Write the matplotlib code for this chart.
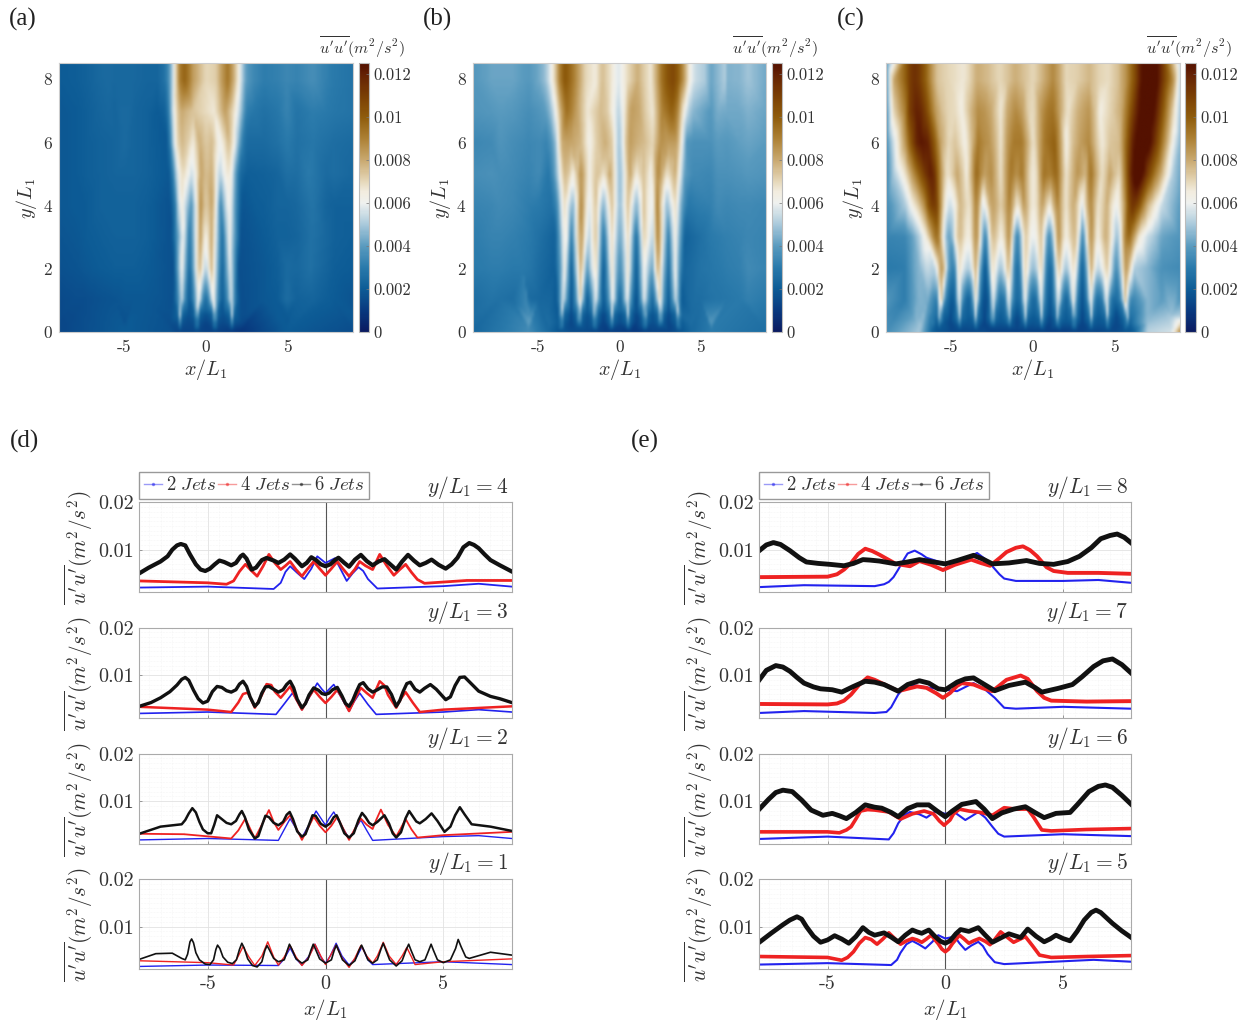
import numpy as np
import matplotlib
matplotlib.use('Agg')
import matplotlib.pyplot as plt
import matplotlib.tri as mtri
from matplotlib.cm import ScalarMappable
from matplotlib.colors import LinearSegmentedColormap, Normalize
from matplotlib.lines import Line2D
from matplotlib.ticker import MultipleLocator

plt.rcParams['mathtext.fontset'] = 'cm'
plt.rcParams['font.family'] = 'cmr10'
plt.rcParams['axes.unicode_minus'] = False

# values, in units of 1e-3 m2/s2
x2_1 = [-7.9,-5,-2,-1.75,-1.5,-1.25,-1,-.7,-.45,-.2,0,.2,.45,.7,1,1.3,1.55,1.8,2,5,7.9]
v2_1 = [1.6,1.9,1.8,3.2,5.5,3.2,1.9,3.8,6.3,3.6,2.3,3.8,6.5,3.8,1.9,3.4,5.8,3,2,2.6,2]
x2_2 = [-7.9,-5,-2,-1.75,-1.5,-1.25,-1,-.7,-.4,-.2,0,.15,.35,.65,1,1.25,1.5,1.75,2,5,6.5,7.9]
v2_2 = [1.8,2.1,1.7,4,6.3,4.2,2.3,5,7.9,6.4,4.9,6.3,7.7,5,2.1,4,6,3.8,1.7,2.5,2.7,2.1]
x2_3 = [-7.9,-5,-2.1,-1.8,-1.4,-1.2,-1,-.7,-.35,-.15,0,.15,.35,.7,1,1.2,1.45,1.8,2.15,5,6.5,7.9]
v2_3 = [1.9,2.2,1.7,3.6,6.2,4.5,2.7,5.2,8.3,7,6.2,7,8,5,2.4,4.3,6.2,3.8,1.7,2.2,2.7,2.2]
x2_4 = [-7.9,-5,-2.2,-1.9,-1.7,-1.5,-1.2,-.9,-.6,-.35,0,.4,.65,.9,1.15,1.4,1.6,1.8,2.2,5,6.5,7.9]
v2_4 = [2,2.2,1.7,3,5.3,6.5,5.1,3.8,6,8.6,7.2,8.2,5.8,3.4,5,6.3,5.5,3.8,1.8,2.3,2.8,2.2]
x2_5 = [-7.9,-5,-2.3,-2.05,-1.9,-1.65,-1.4,-1.1,-.85,-.55,-.3,0,.4,.6,.85,1.1,1.4,1.6,1.8,2.1,2.5,6.3,7.9]
v2_5 = [2,2.3,1.9,3,4.5,6.3,7,6.2,5.4,6.8,8.2,7.5,7.9,6.5,5.1,6,6.8,5.9,4.2,2.5,2.1,3,2.6]
x2_6 = [-7.9,-5,-2.4,-2.2,-2,-1.75,-1.5,-1.1,-.8,-.4,0,.4,.85,1.15,1.4,1.7,2,2.25,2.5,5,7.9]
v2_6 = [2,2.5,1.9,3.2,5.3,7,7.7,7.2,6.5,7.9,7.3,7.6,6,6.9,7.7,6.5,4.6,3.1,2.5,3,2.6]
x2_7 = [-7.9,-6,-3,-2.5,-2.3,-2,-1.7,-1.5,-.8,0,.5,.9,1.2,1.7,2.1,2.5,3,5,7.9]
v2_7 = [2,2.4,2,2.2,3.2,5.9,7.6,8,7.4,6.9,6.6,7.6,8.3,6.9,5.2,3.1,2.9,3.3,2.9]
x2_8 = [-7.9,-6,-3,-2.6,-2.4,-2.2,-2,-1.75,-1.6,-1.3,-1,-.8,0,.6,1,1.35,1.7,2,2.3,2.5,3,5,6.5,7.9]
v2_8 = [2.1,2.5,2.3,2.7,3.2,4.2,5.8,8,9.2,9.8,9,8.3,7,7.2,8.4,9.3,8,6.5,4.8,3.9,3.4,3.4,3.6,3]

x4_1 = [-7.9,-5,-3.9,-3.7,-3.5,-3.25,-3,-2.7,-2.45,-2.2,-2,-1.75,-1.5,-1.25,-1,-.7,-.45,-.2,0,.2,.45,.7,1,1.25,1.5,1.75,2,2.2,2.45,2.7,3,3.25,3.45,3.65,3.8,5,7.9]
v4_1 = [2.8,2.4,1.9,3.8,5.8,3.6,1.8,3.8,6.8,3.6,1.9,3.6,6,3.6,1.8,3.6,6.3,3.8,2,3.8,6.1,3.4,1.4,3.4,6,3.8,2.3,3.8,6.7,3.8,2,3.8,5.6,3.6,2,2.6,3.2]
x4_2 = [-7.9,-6,-4,-3.7,-3.4,-3.2,-3,-2.7,-2.4,-2.2,-2,-1.75,-1.5,-1.25,-1,-.75,-.5,-.25,0,.25,.5,.75,1,1.25,1.5,1.75,2,2.15,2.35,2.65,3,3.2,3.4,3.65,3.9,5,7.9]
v4_2 = [3.1,3,2.1,3.8,6.3,4.2,2.1,5,8.1,5.6,3.9,5.6,7,4.4,1.8,4.2,6.7,4.8,3.4,4.8,6.7,4.2,1.8,4.2,6.3,5,4.1,6,8.2,5,2.5,4.3,6.2,4,2.3,2.8,3.5]
x4_3 = [-7.9,-5,-4,-3.7,-3.5,-3.3,-3.15,-3,-2.7,-2.5,-2.3,-2.15,-1.9,-1.7,-1.5,-1.25,-1,-.75,-.5,-.25,0,.25,.5,.75,1,1.25,1.5,1.75,2,2.15,2.3,2.5,2.65,3,3.2,3.4,3.7,4,5,7.9]
v4_3 = [3.3,2.7,2.2,4.2,6,6.3,4.8,3.1,5.8,8.1,7.9,6.5,5.2,6.4,7.6,5,2.7,5,6.9,5.4,4.1,5.4,6.9,4.8,2.4,5,7.3,6.2,5.2,7,8.7,7.8,5.8,3.1,5,6.4,4.2,2.2,2.7,3.4]
x4_4 = [-7.9,-5,-4.2,-3.9,-3.65,-3.4,-3.15,-2.9,-2.65,-2.4,-2.15,-1.9,-1.7,-1.5,-1.25,-1,-.75,-.5,-.25,0,.25,.5,.75,1,1.25,1.45,1.7,2,2.15,2.3,2.6,2.9,3.15,3.4,3.65,3.9,4.2,6,7.9]
v4_4 = [3.4,3,2.7,3.4,5.4,6.9,5.6,4.4,6.5,9,7.2,5.8,6.6,7.5,5.8,4.4,6,7.5,6,4.6,6,7.5,5.9,4.4,5.9,7.5,6.6,5.8,7.4,9,6.6,4.6,5.8,6.9,5.2,3.7,2.9,3.5,3.5]
x4_5 = [-7.9,-5,-4.4,-4.15,-3.9,-3.65,-3.4,-3.15,-2.9,-2.65,-2.4,-2.15,-1.9,-1.65,-1.4,-1.2,-1,-.8,-.6,-.3,-.15,0,.15,.3,.6,.8,1,1.2,1.45,1.7,1.9,2.1,2.35,2.6,2.9,3.15,3.4,3.7,4,4.5,6,7.9]
v4_5 = [3.7,3.5,2.9,3.5,4.7,6.5,7.7,7.3,6.3,7.4,8.7,7.5,6.3,7,7.5,7.2,6.7,7.4,8.2,6.4,5.3,4.7,5.3,6.4,8.2,7.4,6.5,7,7.5,6.9,6.2,7.3,8.9,7.9,6.7,7.3,7.9,6,4,3.5,3.7,3.9]
x4_6 = [-7.9,-5,-4.5,-4.2,-4,-3.8,-3.6,-3.3,-3,-2.4,-1.9,-1.4,-.9,-.5,-.25,-.05,.2,.35,.6,1,1.5,2,2.5,3,3.5,3.75,4.1,4.5,6,7.9]
v4_6 = [3.5,3.5,3.3,3.9,4.6,6.2,7.9,8.2,8.1,7.7,6.2,7.3,7.9,7.3,5.8,4.9,6,7.3,8.3,7.9,7.6,7,8.6,8.3,8.3,6.6,3.9,3.7,4,4.2]
x4_7 = [-7.9,-5,-4.6,-4.3,-4,-3.65,-3.3,-3,-2.7,-2,-1.6,-1.2,-.8,-.4,-.1,.2,.5,.7,1.2,1.6,2,2.6,3.2,3.5,3.9,4.2,4.5,6,7.9]
v4_7 = [3.9,3.8,4,4.6,5.9,8,9.5,9,8.3,6.6,7.1,7.6,7.3,6.2,5.2,6.2,7.7,8.3,8,7.2,6.6,9,9.9,9.2,6.6,5.2,4.6,4.4,4.5]
x4_8 = [-7.9,-5,-4.6,-4.3,-4,-3.7,-3.4,-3.1,-2.8,-2.1,-1.5,-1.1,-.6,-.1,.4,1.1,1.5,1.9,2.3,2.6,3,3.3,3.6,3.9,4.3,4.6,5.2,6.5,7.9]
v4_8 = [4.2,4.3,4.8,5.8,7.2,9.1,10.2,9.7,8.95,7,6.5,7.6,6.8,5.7,6.8,7.9,7.2,6.6,8.2,9.5,10.4,10.7,9.9,8.6,6.3,5.5,5.1,5.1,4.9]

x6_1 = [-7.9,-7.2,-6.5,-6.1,-5.95,-5.85,-5.75,-5.68,-5.6,-5.5,-5.35,-5.1,-4.9,-4.75,-4.65,-4.58,-4.48,-4.35,-4.15,-3.95,-3.78,-3.65,-3.55,-3.45,-3.3,-3.1,-2.9,-2.7,-2.57,-2.48,-2.38,-2.2,-2,-1.75,-1.62,-1.53,-1.42,-1.25,-1,-.75,-.62,-.52,-.42,-.25,0,.25,.37,.46,.55,.72,1,1.25,1.42,1.53,1.63,1.8,2,2.2,2.35,2.45,2.55,2.72,3,3.25,3.43,3.53,3.63,3.8,4,4.22,4.38,4.48,4.58,4.75,5,5.3,5.52,5.63,5.75,5.95,6.1,7,7.9]
v6_1 = [3.1,4.3,4.4,3.3,3,4.2,6.8,7.4,6.6,4.5,3,2.1,2,3,5.2,6.1,5.4,3.6,2.5,2.2,3,5.2,6.5,5.5,3.2,1.8,1.5,2.6,5,6,5.1,3.3,2.6,3,5,6.3,5.2,3.2,2.3,3,5,6.3,5.2,3.2,2.3,3,5,6.1,5,3,1.8,2.8,5,6.1,5,3,2.3,3,5.2,6.5,5.2,3,1.7,2.8,5.2,6.3,5,3,2.6,3,5,6.3,5,3,2.4,3,5.4,7.3,5.8,3.6,3.3,4.6,4]
x6_2 = [-7.9,-7,-6.1,-5.95,-5.8,-5.65,-5.5,-5.35,-5.2,-5,-4.85,-4.72,-4.6,-4.45,-4.2,-4,-3.8,-3.65,-3.55,-3.42,-3.25,-3,-2.85,-2.7,-2.55,-2.4,-2.2,-2,-1.8,-1.65,-1.52,-1.38,-1.2,-1,-.85,-.7,-.55,-.42,-.2,0,.2,.35,.47,.6,.8,1,1.2,1.4,1.55,1.7,1.85,2,2.2,2.5,2.7,2.85,3,3.2,3.4,3.55,3.7,3.85,4,4.25,4.5,4.75,5.05,5.3,5.5,5.7,5.9,6.2,7,7.9]
v6_2 = [3.1,4.6,5.1,6,7.4,8.5,7.6,5.6,4,3.2,3.2,5,7,6.4,5.4,5.1,5.8,7.2,7.9,6.6,4,2.1,2.6,4.8,6.9,6.6,5.4,4.9,5.6,7.1,7.7,6.2,3.6,2.5,3,5,7,6.9,5.2,4.6,5.3,6.6,7,5.6,3.2,2.3,3.2,6,7.5,6.6,5.4,4.9,5.6,7,5.2,3.2,2.3,3.4,6.4,7.9,6.8,5.7,5.3,6.2,7.4,5.8,3.5,4.6,7,8.7,7.2,5.1,4.6,3.7]
x6_3 = [-7.9,-7.4,-7,-6.6,-6.3,-6.1,-5.95,-5.8,-5.6,-5.4,-5.2,-5,-4.8,-4.6,-4.4,-4.2,-4,-3.8,-3.65,-3.5,-3.35,-3.2,-3,-2.85,-2.7,-2.55,-2.4,-2.2,-2,-1.8,-1.65,-1.5,-1.35,-1.2,-1,-.85,-.7,-.5,-.3,-.15,0,.15,.3,.5,.7,.85,1,1.15,1.3,1.45,1.6,1.8,2,2.2,2.4,2.6,2.8,3,3.15,3.3,3.45,3.6,3.8,4,4.2,4.45,4.7,5.1,5.3,5.5,5.7,5.9,6.1,6.5,7,7.4,7.9]
v6_3 = [3.4,4.2,5.2,6.5,7.9,9.1,9.5,8.9,6.8,5,4.1,4.5,6.5,7.6,7.4,6.7,6.4,6.9,8.1,8.7,7.6,5.4,3.4,4.2,6.2,7.5,7.6,7,6.4,6.9,8,8.7,7.3,4.9,3.1,4,5.8,7.3,6.8,6.1,5.9,6.2,6.9,7.4,5.6,4,3.4,4.6,6.4,8,8.4,7.1,6.4,6.9,7.5,7.5,5.9,3.4,4.6,6.6,8.2,8.5,7,6.4,7.2,8,7,4.8,5.4,7.8,9.5,9.6,8.6,6.6,5.5,5,4.2]
x6_4 = [-7.9,-7.5,-7,-6.7,-6.5,-6.3,-6.14,-5.95,-5.75,-5.5,-5.3,-5.1,-4.9,-4.7,-4.5,-4.3,-4,-3.8,-3.6,-3.5,-3.35,-3.13,-2.95,-2.7,-2.5,-2.2,-2,-1.75,-1.5,-1.3,-1,-.8,-.6,-.4,-.2,0,.2,.4,.55,.8,1,1.25,1.5,1.75,2,2.25,2.5,2.75,3,3.25,3.5,3.75,4,4.25,4.5,4.8,5.1,5.35,5.6,5.85,6.1,6.3,6.5,6.75,7,7.4,7.9]
v6_4 = [5,6.2,7.5,8.6,10,10.9,11.2,10.9,9,6.9,5.8,5.5,6,6.9,7.7,7.4,6.7,7.2,8.6,8.95,8.1,5.8,6.2,7.8,8.25,7.7,7.2,7.9,9,8.1,6.5,7.2,8.4,7.8,6.9,6.5,6.9,7.8,8.3,7.2,6.4,7.9,8.9,7.6,6.7,7.5,8,6.9,5.8,7.5,8.9,7.7,6.7,7.2,7.9,6.8,6,6.9,8.3,10.5,11.4,11,10.3,9,7.8,6.7,5.4]
x6_5 = [-7.9,-7.4,-6.9,-6.6,-6.3,-6.1,-5.9,-5.6,-5.3,-5,-4.7,-4.4,-4.1,-3.8,-3.5,-3.25,-3,-2.6,-2.3,-2,-1.7,-1.4,-1.2,-1,-.7,-.45,-.2,0,.2,.45,.65,1,1.2,1.4,1.7,2,2.35,2.7,3.2,3.5,3.85,4.2,4.45,4.7,5,5.3,5.6,5.9,6.2,6.4,6.6,7.1,7.5,7.9]
v6_5 = [6.7,8.6,10.4,11.4,12.1,11.6,10,8,6.7,7.2,8.1,7.4,6.5,7.9,9.8,8.8,8.2,8.7,7.8,6.8,8.2,9.3,8.9,8.6,9.3,8,6.9,6.5,7,8.5,9.4,9,9.4,9.8,8.2,6.7,7.6,8.5,7.7,9.5,8,6.8,7.4,8.2,7.5,7,9,11.4,13,13.5,13,10.7,9.1,7.7]
x6_6 = [-7.9,-7.5,-7.2,-6.9,-6.5,-6.1,-5.7,-5.2,-4.8,-4.5,-4.2,-3.8,-3.4,-3,-2.7,-2.3,-2,-1.6,-1.2,-.7,-.35,0,.3,.7,1,1.3,1.65,2,2.4,2.9,3.4,3.8,4.2,4.7,5.3,5.6,6.1,6.5,6.8,7.1,7.5,7.9]
v6_6 = [8.3,10.4,11.8,12.3,12,10.2,8.1,7,7.4,6.9,6.3,7.6,9.2,8.7,8.5,7.6,6.7,8.4,9.2,9.2,7.9,6.7,7.9,9.3,9.6,9.9,8.3,6.3,7.5,8.3,8.8,7.6,6.5,7.4,7.6,9.2,12,13.1,13.4,12.9,11.2,9.3]
x6_7 = [-7.9,-7.6,-7.2,-6.9,-6.6,-6.3,-6,-5.6,-5.3,-4.8,-4.4,-3.9,-3.4,-3,-2.6,-2.3,-2,-1.6,-1.1,-.7,-.3,0,.5,.85,1.2,1.6,2.1,2.7,3.4,3.8,4.1,4.8,5.4,5.8,6.3,6.7,7.1,7.5,7.9]
v6_7 = [9,11,12,11.7,10.8,9.5,8.3,7.5,7.1,6.9,6.4,7.6,8.7,8.5,8,7.3,6.6,8,8.8,8.3,7.1,6.9,8.5,9.2,9.4,8.2,6.7,7.8,8.5,7.4,6.4,7.2,8,9.6,11.8,13,13.4,12.2,10.4]
x6_8 = [-7.9,-7.6,-7.3,-7,-6.6,-6.2,-5.9,-5.4,-4.9,-4.3,-3.9,-3.5,-3.2,-2.8,-2.1,-1.6,-1.1,-.5,0,.5,1.2,1.6,2,2.7,3.45,4,4.6,5.2,5.7,6.2,6.6,7,7.3,7.6,7.9]
v6_8 = [9.8,11,11.5,11.1,9.8,8.3,7.4,7.1,6.9,6.6,7.1,7.9,7.8,7.6,7,7.4,7.9,7.4,7,7.7,8.8,8,7,7.2,7.7,7.1,6.9,7.5,8.6,10.4,12.3,13,13.3,12.6,11.4]

# rows of the maps that have no profile panel
xa_low = [-9,-5,-2.2,-1.75,-1.6,-1.45,-1.05,-.7,-.55,-.4,0,.4,.55,.7,1.05,1.45,1.6,1.75,2.2,5,9]
va_0 = [1.4,2,1.7,1.4,1.5,1.4,1.4,1.4,1.5,1.4,1.3,1.3,1.4,1.3,1.2,1.1,1.1,1,.9,2,1.6]
va_q = [1.4,1.7,1.6,1.7,3.4,1.7,1.5,1.7,3.4,1.7,1.3,1.7,3.4,1.7,1.5,1.7,3.4,1.7,1.5,1.9,1.8]
va_h = [1.5,1.8,1.7,2.2,5.2,2.2,1.7,2.2,5.2,2.2,1.6,2.2,5.2,2.2,1.7,2.2,5.2,2.2,1.6,2,1.9]
xb_low = [-9,-5.6,-4.4,-3.75,-3.6,-3.45,-3,-2.65,-2.5,-2.35,-2,-1.7,-1.55,-1.4,-1,-.65,-.5,-.35,0,.35,.5,.65,1,1.4,1.55,1.7,2,2.35,2.5,2.65,3,3.45,3.6,3.75,4.4,5.6,9]
vb_0 = [2.4,3.5,2.4,1.8,1.8,1.8,1.6,1.6,1.6,1.6,1.5,1.4,1.4,1.4,1.2,1.2,1.2,1.2,1.2,1.1,1.1,1.1,1,1.2,1.3,1.3,1.4,1.4,1.4,1.4,1.4,1.6,1.8,1.8,2.4,3,2.6]
vb_q = [2.5,4.2,2.6,2,3.6,2,1.4,2,3.6,2,1.6,2,3.6,2,1.2,2,3.6,2,1.5,2,3.6,2,1.2,2,3.6,2,1.6,2,3.6,2,1.4,2,3.6,2,2.6,4,2.7]
vb_h = [2.6,3.6,2.5,2.4,5.3,2.4,1.5,2.4,5.3,2.4,1.7,2.4,5.3,2.4,1.3,2.4,5.3,2.4,1.7,2.4,5.3,2.4,1.3,2.4,5.3,2.4,1.7,2.4,5.3,2.4,1.5,2.4,5.3,2.4,2.5,3.4,2.8]
xc_low = [-9,-7,-6.2,-5.9,-5.75,-5.6,-5.1,-4.7,-4.55,-4.4,-4,-3.7,-3.55,-3.4,-3,-2.65,-2.5,-2.35,-2,-1.65,-1.5,-1.35,-1,-.65,-.5,-.35,0,.35,.5,.65,1,1.35,1.5,1.65,2,2.35,2.5,2.65,3,3.4,3.55,3.7,4,4.4,4.55,4.7,5.1,5.6,5.75,5.9,6.2,7,8.5,9]
vc_0 = [3.6,5,2.2,1.8,1.8,1.8,1.5,1.5,1.5,1.5,1.5,1.5,1.5,1.5,1.5,1.3,1.3,1.3,1.3,1.3,1.3,1.3,1.3,1.3,1.3,1.3,1.3,1.3,1.3,1.3,1.2,1.2,1.2,1.2,1.2,1.3,1.3,1.3,1.3,1.4,1.4,1.4,1.4,1.5,1.5,1.5,1.5,1.8,1.8,1.8,2.2,5.2,5.6,8.5]
vc_q = [3.6,4.6,3,2,3.6,2,1.4,2,3.6,2,1.8,2,3.6,2,1.3,2,3.6,2,1.8,2,3.6,2,1.3,2,3.6,2,1.8,2,3.6,2,1.3,2,3.6,2,1.8,2,3.6,2,1.3,2,3.6,2,1.8,2,3.6,2,1.4,2.2,3.6,2.2,3,4.8,5.4,6.6]
vc_h = [3.5,4.5,3,2.6,5.5,2.6,1.5,2.6,5.5,2.6,2,2.6,5.5,2.6,1.4,2.6,5.5,2.6,2,2.6,5.5,2.6,1.5,2.6,5.5,2.6,2,2.6,5.5,2.6,1.5,2.6,5.5,2.6,2,2.6,5.5,2.6,1.4,2.6,5.5,2.6,2,2.6,5.5,2.6,1.5,2.8,5.6,2.8,3,4.6,4.8,5]

# points of the maps beyond the profile range, y then x
edge_y = [1,2,3,4,5,6,7,8]
ea_left = [1.5,1.7,1.8,1.9,1.9,1.9,1.9,2]
ea_right = [1.8,2,2.1,2.2,2.4,2.5,2.8,2.8]
eb_left = [2.6,3,3.1,3.3,3.6,3.4,3.8,3.9]
eb_right = [3,3.3,3.3,3.4,3.8,4,4.2,4.3]
ec_left = [3.8,3,3.3,3.6,3.6,3.8,4,4.2]
ec_right = [3.8,3.5,3.8,4,4.3,4.6,5,5.5]
ec_in_y = [5,6,7,8]
ec_in_left = [5,5.5,7,8]
ec_in_right = [5,6,7,8.5]

# map background outside the jets, one line per y in edge_y
xa_out = [-7.4,-6.6,-5.6,-4.4,-3.6,3.6,4.4,5.6,6.6,7.4]
va_out = [[1.6,1.7,1.8,1.9,1.9,1.9,2,2.2,2.3,2.1],
          [1.9,2,2.1,2.1,2,1.9,2.1,2.4,2.6,2.3],
          [2,2.1,2.2,2.2,2.1,2,2.2,2.3,2.7,2.4],
          [2,2.2,2.2,2.2,2.1,2.1,2.3,2.4,2.8,2.3],
          [2.1,2.2,2.3,2.3,2.2,2.2,2.3,2.6,2.9,2.5],
          [2.1,2.2,2.3,2.3,2.2,2.5,2.7,2.7,2.9,2.7],
          [2.1,2.3,2.3,2.3,2.2,2.7,2.9,2.8,3.1,3],
          [2.2,2.4,2.4,2.4,2.3,3.1,3.2,3.3,3.6,3.2]]
xb_out = [-7.4,-6.6,-5.6,5.6,6.6,7.4]
vb_out = [[2.7,2.6,2.5,2.8,2.9,3],
          [3.1,3,2.9,2.9,3.1,3.2],
          [3.3,3.2,3,3,3.2,3.3],
          [3.5,3.4,3.1,3.2,3.4,3.5],
          [3.6,3.5,3.3,3.4,3.7,3.8],
          [3.8,3.6,3.4,3.7,3.9,4.1],
          [4,3.9,3.6,3.9,4.3,4.3],
          [4.2,4.2,3.9,4.2,4.5,4.6]]

two_jets = {1:(x2_1,v2_1),2:(x2_2,v2_2),3:(x2_3,v2_3),4:(x2_4,v2_4),5:(x2_5,v2_5),6:(x2_6,v2_6),7:(x2_7,v2_7),8:(x2_8,v2_8)}
four_jets = {1:(x4_1,v4_1),2:(x4_2,v4_2),3:(x4_3,v4_3),4:(x4_4,v4_4),5:(x4_5,v4_5),6:(x4_6,v4_6),7:(x4_7,v4_7),8:(x4_8,v4_8)}
six_jets = {1:(x6_1,v6_1),2:(x6_2,v6_2),3:(x6_3,v6_3),4:(x6_4,v6_4),5:(x6_5,v6_5),6:(x6_6,v6_6),7:(x6_7,v6_7),8:(x6_8,v6_8)}

cb_ticks = [0,.002,.004,.006,.008,.01,.012]
cb_labels = ['0','0.002','0.004','0.006','0.008','0.01','0.012']
heat_xticks = [-5,0,5]
heat_yticks = [0,2,4,6,8]
left_rows = [4,3,2,1]
right_rows = [8,7,6,5]

cm_stops = [(0,'#0a1a60'),(1,'#08397f'),(2,'#0d5c96'),(3,'#2a7aab'),(4,'#5a9bbf'),(5,'#a9c9db'),(6,'#eff1ef'),(6.5,'#f2ede0'),
            (7,'#e6d8ba'),(8,'#c9a970'),(9,'#ad8135'),(10,'#8f5c0c'),(11,'#7a3f04'),(12,'#642104'),(12.5,'#541100')]
cmap = LinearSegmentedColormap.from_list('bb', [(a/12.5,c) for a,c in cm_stops], N=256)

W, H = 1251, 1029
fig = plt.figure(figsize=(W/100, H/100), dpi=100)


def px_axes(l, t, r, b):
    return fig.add_axes([l/W, 1-b/H, (r-l)/W, (b-t)/H])


def heat_panel(l, r, cl, cr, rows, low_x, low, left, right, extra=None, out=None):
    xs, ys, vs = [], [], []
    for y in rows:
        xs += list(rows[y][0]); ys += [y]*len(rows[y][0]); vs += list(rows[y][1])
    # top edge of the map repeats the last profile
    xs += list(rows[8][0]); ys += [8.5]*len(rows[8][0]); vs += list(rows[8][1])
    for y, vr in low:
        xs += low_x; ys += [y]*len(low_x); vs += vr
    for i, y in enumerate(edge_y):
        xs += [-9, 9]; ys += [y, y]; vs += [left[i], right[i]]
    xs += [-9, 9]; ys += [8.5, 8.5]; vs += [left[-1], right[-1]]
    if extra:
        xs += extra[0]; ys += extra[1]; vs += extra[2]
    if out:
        for y, vr in zip(edge_y + [8.5], out[1] + [out[1][-1]]):
            xs += out[0]; ys += [y]*len(out[0]); vs += vr
    xs, ys, vs = np.array(xs), np.array(ys), np.array(vs)
    # squeeze y for the triangles so ridges link up from row to row
    tris = mtri.Triangulation(xs, ys*.4).triangles
    tri = mtri.Triangulation(xs, ys, tris)
    # sample the triangles on a coarse raster, imshow softens it like the source image
    gx, gy = np.meshgrid(np.linspace(-8.99, 8.99, 130), np.linspace(.005, 8.495, 100))
    grid = mtri.LinearTriInterpolator(tri, vs*1e-3)(gx, gy)
    norm = Normalize(0, .0125)
    ax = px_axes(l, 63.3, r, 332.3)
    ax.imshow(grid, origin='lower', extent=(-9, 9, 0, 8.5), aspect='auto', cmap=cmap, norm=norm, interpolation='bicubic')
    ax.set_xlim(-9, 9)
    ax.set_ylim(0, 8.5)
    ax.set_xticks(heat_xticks)
    ax.set_xticklabels([str(t) for t in heat_xticks])
    ax.set_yticks(heat_yticks)
    ax.tick_params(length=0, labelsize=12.5, labelcolor='#333333', pad=5)
    for s in ax.spines.values():
        s.set_color('#cccccc')
    ax.set_xlabel(r'$x/L_1$', fontsize=14.5, color='#333333', labelpad=2)
    ax.set_ylabel(r'$y/L_1$', fontsize=14.5, color='#333333', labelpad=3)
    cax = px_axes(cl, 63.3, cr, 332.3)
    cb = fig.colorbar(ScalarMappable(norm=norm, cmap=cmap), cax=cax)
    cb.set_ticks(cb_ticks)
    cb.set_ticklabels(cb_labels)
    cb.ax.tick_params(length=2, width=.5, direction='in', labelsize=12, labelcolor='#333333', pad=3, color='#777777')
    cb.outline.set_edgecolor('#bbbbbb')
    fig.text((cr+36)/W, 1-47/H, r"$\overline{u'u'}(m^2/s^2)$", fontsize=11.5, color='#333333', ha='right', va='center')


heat_panel(58.7, 352.7, 358.7, 369.3, two_jets, xa_low, [(0,va_0),(.25,va_q),(.5,va_h)], ea_left, ea_right, out=(xa_out, va_out))
heat_panel(472.5, 766, 771.5, 782, four_jets, xb_low, [(0,vb_0),(.25,vb_q),(.5,vb_h)], eb_left, eb_right, out=(xb_out, vb_out))
heat_panel(885.7, 1180, 1185.3, 1196, six_jets, xc_low, [(0,vc_0),(.25,vc_q),(.5,vc_h)], ec_left, ec_right,
           ([-8.6]*4+[8.6]*4, ec_in_y*2, ec_in_left+ec_in_right))

for lab, x in zip(['(a)','(b)','(c)'], [9, 423, 837]):
    fig.text(x/W, 1-19/H, lab, fontsize=18, family='Liberation Serif', va='center', color='#222222')
for lab, x in zip(['(d)','(e)'], [10, 631]):
    fig.text(x/W, 1-441/H, lab, fontsize=18, family='Liberation Serif', va='center', color='#222222')

tops = [502.3, 627.7, 753.7, 879.3]
line_w = {1:(1.0,1.0,1.2), 2:(1.0,1.3,1.8), 3:(1.2,1.8,2.4), 4:(1.3,2,3), 5:(1.5,2.6,3.4), 6:(1.5,2.6,3.5), 7:(1.5,2.8,3.5), 8:(1.5,2.8,3.5)}
c_two, c_four, c_six = '#2222ee', '#ee2222', '#111111'


def profile_column(l, r, ys, xlabel_row=3):
    for i, yv in enumerate(ys):
        ax = px_axes(l, tops[i], r, tops[i]+90)
        lw = line_w[yv]
        ax.plot(two_jets[yv][0], np.array(two_jets[yv][1])*1e-3, color=c_two, lw=lw[0])
        ax.plot(four_jets[yv][0], np.array(four_jets[yv][1])*1e-3, color=c_four, lw=lw[1])
        ax.plot(six_jets[yv][0], np.array(six_jets[yv][1])*1e-3, color=c_six, lw=lw[2])
        ax.axvline(0, color='#555555', lw=.8, zorder=1)
        ax.set_xlim(-7.9, 7.9)
        ax.set_ylim(.001, .02)
        ax.set_xticks(heat_xticks)
        ax.set_yticks([.01, .02])
        ax.set_yticklabels(['0.01', '0.02'])
        ax.xaxis.set_minor_locator(MultipleLocator(.5))
        ax.yaxis.set_minor_locator(MultipleLocator(.001))
        ax.grid(which='major', color='#e2e2e2', lw=.6)
        ax.grid(which='minor', color='#eeeeee', lw=.4, ls=':')
        ax.set_axisbelow(True)
        ax.tick_params(which='minor', length=0)
        ax.tick_params(which='major', length=2, width=.5, direction='in', color='#777777', labelsize=14.5, labelcolor='#333333', pad=4)
        for s in ax.spines.values():
            s.set_color('#aaaaaa')
        if i == xlabel_row:
            ax.set_xticklabels(['-5', '0', '5'])
            ax.set_xlabel(r'$x/L_1$', fontsize=15, color='#333333', labelpad=3)
        else:
            ax.set_xticklabels([])
        ax.set_ylabel(r"$\overline{u'u'}(m^2/s^2)$", fontsize=15.3, color='#333333', va='center')
        ax.yaxis.set_label_coords(-.162, .49)
        ax.text(.99, 1.02, r'$y/L_1=%d$' % yv, transform=ax.transAxes, ha='right', va='bottom', fontsize=15.5, color='#333333')
        if i == 0:
            hs = [Line2D([], [], color=c, lw=1, alpha=.45, marker='.', ms=3, mfc=c, mec=c) for c in (c_two, c_four, c_six)]
            ax.legend(hs, [r'$2\ Jets$', r'$4\ Jets$', r'$6\ Jets$'], loc='lower left', bbox_to_anchor=(0, 1.035), ncol=3,
                      fontsize=13.5, frameon=True, fancybox=False, edgecolor='#999999', framealpha=1, borderaxespad=0,
                      columnspacing=.1, handlelength=.95, handletextpad=.2, borderpad=.25, labelcolor='#333333')


profile_column(139.3, 511.7, left_rows)
profile_column(759.3, 1131.3, right_rows)

fig.savefig('out.png', dpi=100)
